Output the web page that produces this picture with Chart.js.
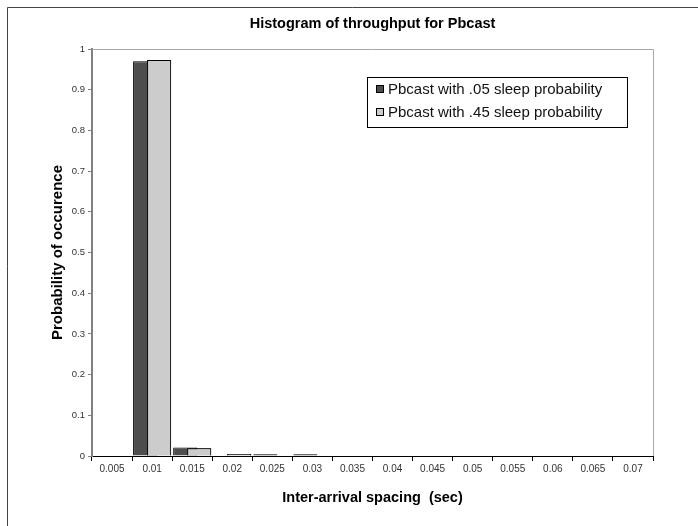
<!DOCTYPE html>
<html>
<head>
<meta charset="utf-8">
<script src="https://cdn.jsdelivr.net/npm/chart.js@4/dist/chart.umd.min.js"></script>
<style>
html,body{margin:0;padding:0;background:#fff;}
#wrap{width:698px;height:526px;}
</style>
</head>
<body>
<div id="wrap"><canvas id="c" width="698" height="526"></canvas></div>
<script>
// ---- data ----
const categories = ['0.005','0.01','0.015','0.02','0.025','0.03','0.035','0.04','0.045','0.05','0.055','0.06','0.065','0.07'];
const sleep05 = [0, 0.970, 0.021, 0, 0.004, 0.004, 0, 0, 0, 0, 0, 0, 0, 0];
const sleep45 = [0, 0.973, 0.019, 0.005, 0, 0, 0, 0, 0, 0, 0, 0, 0, 0];
const seriesNames = ['Pbcast with .05 sleep probability', 'Pbcast with .45 sleep probability'];
const yMin = 0, yMax = 1, yStep = 0.1;
const chartTitle = 'Histogram of throughput for Pbcast';
const xTitle = 'Inter-arrival spacing  (sec)';
const yTitle = 'Probability of occurence';

const FONT = "'Liberation Sans', Arial, sans-serif";
const colors = ['#4d4d4d', '#cccccc'];

const framePlugin = {
  id: 'frame',
  beforeDraw(chart) {
    const ctx = chart.ctx;
    ctx.save();
    ctx.fillStyle = '#fff';
    ctx.fillRect(0, 0, chart.width, chart.height);
    ctx.strokeStyle = '#444';
    ctx.lineWidth = 1;
    ctx.beginPath();
    ctx.moveTo(7.5, chart.height);
    ctx.lineTo(7.5, 7.5);
    ctx.lineTo(chart.width, 7.5);
    ctx.stroke();
    ctx.restore();
  }
};

const overlayPlugin = {
  id: 'overlay',
  afterDatasetsDraw(chart) {
    // light series drawn on top of the dark one (overlapping bars)
    const meta = chart.getDatasetMeta(1);
    const ctx = chart.ctx;
    ctx.save();
    meta.controller.draw();
    ctx.restore();
    const a = chart.chartArea;
    ctx.save();
    ctx.strokeStyle = '#a8a8a8';
    ctx.lineWidth = 1;
    ctx.beginPath();
    ctx.moveTo(a.left, Math.floor(a.top) + 0.5);
    ctx.lineTo(Math.floor(a.right) + 0.5, Math.floor(a.top) + 0.5);
    ctx.lineTo(Math.floor(a.right) + 0.5, a.bottom);
    ctx.stroke();
    ctx.restore();
  }
};

const legendPlugin = {
  id: 'boxLegend',
  afterDraw(chart) {
    const ctx = chart.ctx;
    const bx = 367, by = 77, bw = 260, bh = 50;
    ctx.save();
    ctx.fillStyle = '#fff';
    ctx.fillRect(bx, by, bw, bh);
    ctx.strokeStyle = '#000';
    ctx.lineWidth = 1;
    ctx.strokeRect(bx + 0.5, by + 0.5, bw, bh);
    ctx.font = '15px ' + FONT;
    ctx.textBaseline = 'middle';
    ctx.textAlign = 'left';
    chart.data.datasets.forEach((ds, i) => {
      const cy = by + 12 + i * 23;
      ctx.fillStyle = ds.backgroundColor;
      ctx.fillRect(bx + 9, cy - 4, 8, 8);
      ctx.strokeStyle = '#000';
      ctx.strokeRect(bx + 9.5, cy - 3.5, 7, 7);
      ctx.fillStyle = '#111';
      ctx.fillText(ds.label, bx + 21, cy + 0.5);
    });
    ctx.restore();
  }
};

new Chart(document.getElementById('c'), {
  type: 'bar',
  data: {
    labels: categories,
    datasets: [
      { label: seriesNames[0], data: sleep05, backgroundColor: colors[0], borderColor: '#000', borderWidth: 1, borderSkipped: 'bottom' },
      { label: seriesNames[1], data: sleep45, backgroundColor: colors[1], borderColor: '#000', borderWidth: 1, borderSkipped: 'bottom' }
    ]
  },
  options: {
    responsive: false,
    animation: false,
    devicePixelRatio: 1,
    categoryPercentage: 0.7,
    barPercentage: 24 / 14,
    layout: { padding: { left: 0, right: 45, top: 0, bottom: 0 } },
    plugins: {
      legend: { display: false },
      tooltip: { enabled: false },
      title: {
        display: true, text: chartTitle, fullSize: false,
        font: { family: FONT, size: 14.5, weight: 'bold' }, color: '#000',
        padding: { top: 15, bottom: 16.6 }
      }
    },
    scales: {
      x: {
        grid: { display: true, drawOnChartArea: false, drawTicks: true, tickLength: 5, color: '#000', offset: true },
        border: { display: true, color: '#000', width: 1 },
        ticks: { font: { family: FONT, size: 10 }, color: '#333', padding: 2, maxRotation: 0, autoSkip: false },
        title: { display: true, text: xTitle, font: { family: FONT, size: 14.5, weight: 'bold' }, color: '#000', padding: { top: 0, bottom: 19.5 } },
        afterFit(s) { s.height = 70; }
      },
      y: {
        min: yMin, max: yMax,
        ticks: {
          stepSize: yStep, font: { family: FONT, size: 9.5 }, color: '#333', padding: 3,
          callback: (v) => String(Number(v.toFixed(1)))
        },
        grid: { drawOnChartArea: false, drawTicks: true, tickLength: 4, color: '#808080' },
        border: { display: true, color: '#808080', width: 2 },
        title: { display: true, text: yTitle, font: { family: FONT, size: 15, weight: 'bold' }, color: '#000', padding: { top: 49, bottom: 0 } },
        afterFit(s) { s.width = 92; }
      }
    }
  },
  plugins: [framePlugin, overlayPlugin, legendPlugin]
});
</script>
</body>
</html>
